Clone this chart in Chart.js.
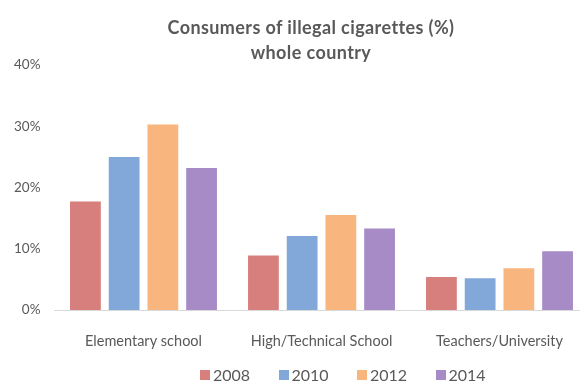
<!DOCTYPE html>
<html>
<head>
<meta charset="utf-8">
<script src="https://cdn.jsdelivr.net/npm/chart.js@4"></script>
<style>
  html, body { margin: 0; padding: 0; background: #fff; overflow: hidden; }
  #wrap { position: relative; width: 580px; height: 383px; overflow: hidden; }
  #title {
    position: absolute; left: 111px; top: 15px; width: 400px; text-align: center;
    font: bold 18px Lato, sans-serif; letter-spacing: 0.4px; color: #595959; line-height: 25px;
  }
  #box { position: absolute; left: 0; top: 0; width: 600px; height: 383px; }
  #legend {
    position: absolute; left: 200px; top: 366px; display: flex;
    font: 16px Lato, sans-serif; color: #595959; line-height: 18px;
  }
  #legend .item { display: flex; align-items: center; width: 78.5px; }
  #legend .sw { width: 10px; height: 10px; margin-right: 3px; }
</style>
</head>
<body>
<div id="wrap">
  <div id="box"><canvas id="c"></canvas></div>
  <div id="title">Consumers of illegal cigarettes (%)<br>whole country</div>
  <div id="legend"></div>
</div>
<script>
// ===== 数据 =====
const categories = ['Elementary school', 'High/Technical School', 'Teachers/University'];
const years = ['2008', '2010', '2012', '2014'];
const v2008 = [17.7, 8.9, 5.4];
const v2010 = [25.0, 12.1, 5.2];
const v2012 = [30.3, 15.5, 6.8];
const v2014 = [23.2, 13.3, 9.6];
const yTicks = [0, 10, 20, 30, 40];

const colors = ['#d77f7d', '#82a8d9', '#f9b57e', '#a78bc6'];
const series = [v2008, v2010, v2012, v2014];

// 图例用 HTML 画，位置和原图对齐
document.getElementById('legend').innerHTML = years
  .map((y, i) => `<span class="item"><span class="sw" style="background:${colors[i]}"></span>${y}</span>`)
  .join('');

new Chart(document.getElementById('c'), {
  type: 'bar',
  data: {
    labels: categories,
    datasets: series.map((d, i) => ({
      label: years[i],
      data: d,
      backgroundColor: colors[i],
      barPercentage: 0.795,
      categoryPercentage: 0.87,
    })),
  },
  options: {
    responsive: true,
    maintainAspectRatio: false,
    animation: false,
    layout: { padding: { top: 65, right: 11.5, left: 0, bottom: 27 } },
    plugins: {
      title: { display: false },
      tooltip: { enabled: false },
      legend: { display: false },
    },
    scales: {
      x: {
        grid: { display: false },
        border: { color: '#d9d9d9', width: 1 },
        ticks: { color: '#595959', font: { family: 'Lato', size: 14.5 }, padding: 15 },
        afterFit: (s) => { s.height = 46; },
      },
      y: {
        min: 0, max: 40,
        afterBuildTicks: (s) => { s.ticks = yTicks.map((v) => ({ value: v })); },
        grid: { display: false, drawTicks: false },
        border: { display: false },
        ticks: {
          color: '#595959', font: { family: 'Lato', size: 13.5 }, padding: 14,
          callback: (v) => v + '%',
        },
        afterFit: (s) => { s.width = 54.5; },
      },
    },
  },
});
</script>
</body>
</html>
